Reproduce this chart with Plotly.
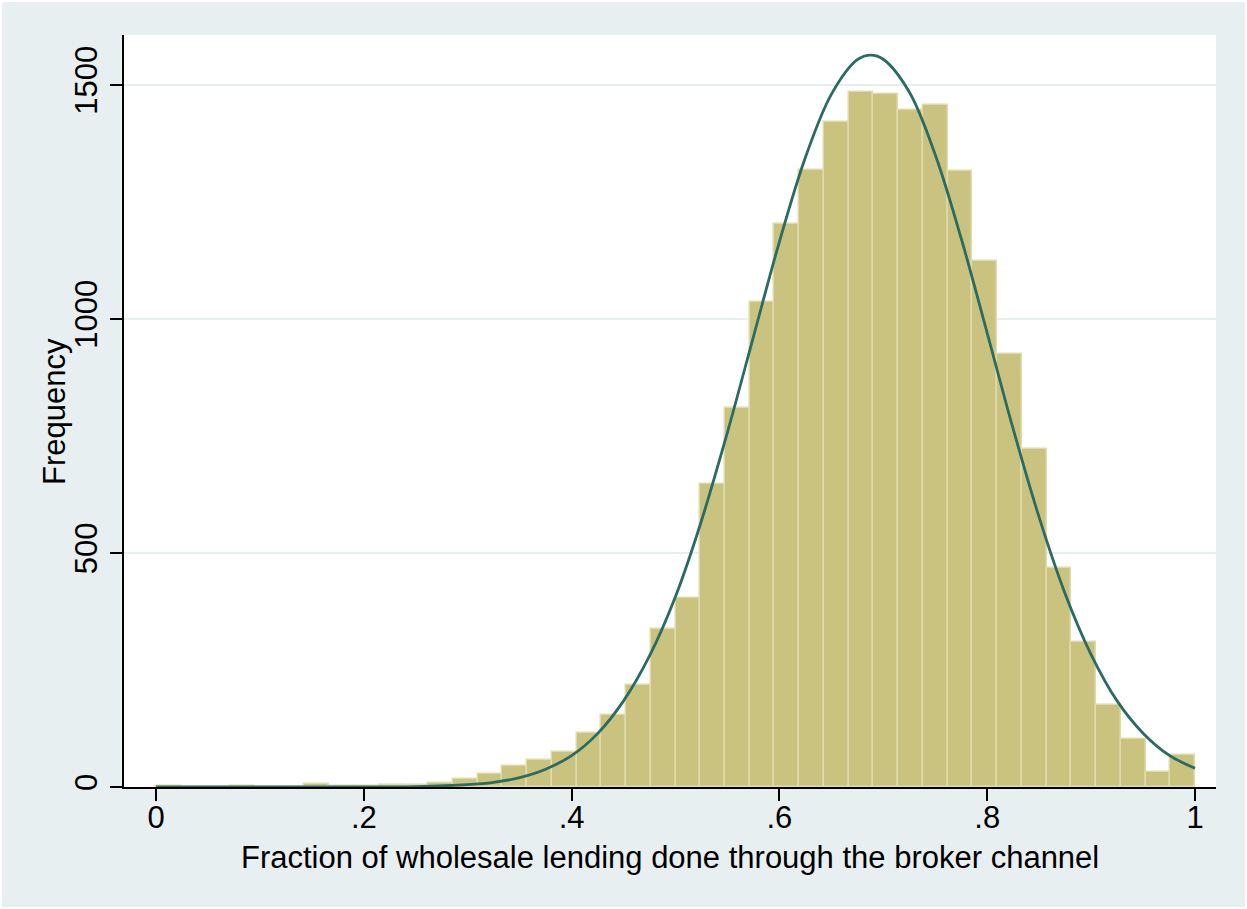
import plotly.graph_objects as go

# ---- data ----
bin_start = 0.0
bin_end = 1.0
n_bins = 42
bar_counts = [3, 1, 1, 3, 1, 1, 7, 2, 2, 4, 5, 8,
              18, 28, 45, 58, 74, 115, 154, 219, 338, 403,
              647, 810, 1036, 1202, 1318, 1421, 1486, 1481, 1447, 1458,
              1316, 1124, 925, 722, 469, 310, 175, 102, 31, 68]

curve_x = [0.0, 0.1, 0.2, 0.25, 0.3, 0.325, 0.35, 0.375, 0.4, 0.425, 0.45, 0.475,
           0.5, 0.525, 0.55, 0.575, 0.6, 0.625, 0.65, 0.675, 0.688, 0.7, 0.725,
           0.75, 0.775, 0.8, 0.825, 0.85, 0.875, 0.9, 0.925, 0.95, 0.975, 1.0]
curve_y = [0, 0, 0.2, 1, 5, 10, 20, 38, 67, 114, 184, 280,
           407, 569, 758, 962, 1165, 1345, 1480, 1554, 1564, 1555, 1485,
           1351, 1172, 970, 765, 576, 413, 283, 184, 115, 68, 40]

x_tick_vals = [0, 0.2, 0.4, 0.6, 0.8, 1.0]
x_tick_text = ["0", ".2", ".4", ".6", ".8", "1"]
y_tick_vals = [0, 500, 1000, 1500]
y_tick_text = ["0", "500", "1000", "1500"]

x_title = "Fraction of wholesale lending done through the broker channel"
y_title = "Frequency"

# ---- derived ----
bin_width = (bin_end - bin_start) / n_bins
bin_centers = [bin_start + (i + 0.5) * bin_width for i in range(n_bins)]

FONT = "Liberation Sans, Arial, Helvetica, sans-serif"
BG = "#e8eff1"

fig = go.Figure()
fig.add_trace(go.Bar(
    x=bin_centers, y=bar_counts, width=bin_width,
    marker=dict(color="#cac37f", line=dict(color="#e0dbaa", width=1.5)),
    showlegend=False, hoverinfo="x+y",
))
fig.add_trace(go.Scatter(
    x=curve_x, y=curve_y, mode="lines", line_shape="spline",
    line=dict(color="#2a6b62", width=2.8),
    showlegend=False,
))

fig.update_layout(
    width=1247, height=909,
    margin=dict(l=124, r=31, t=35, b=122),
    paper_bgcolor=BG, plot_bgcolor="white",
    font=dict(family=FONT, size=31, color="black"),
    bargap=0,
    shapes=[dict(type="rect", xref="paper", yref="paper",
                 x0=-124 / 1092, x1=(1247 - 124) / 1092,
                 y0=(787 - 909) / 752, y1=787 / 752,
                 line=dict(color="white", width=4), fillcolor="rgba(0,0,0,0)",
                 layer="above")],
    annotations=[
        dict(text=x_title, xref="paper", yref="paper",
             x=0.5, y=(787 - 857) / 752, xanchor="center", yanchor="middle",
             showarrow=False, font=dict(size=31)),
        dict(text=y_title, xref="paper", yref="paper",
             x=(54 - 124) / 1092, y=(787 - 412) / 752,
             xanchor="center", yanchor="middle", textangle=-90,
             showarrow=False, font=dict(size=31)),
    ],
)
fig.update_xaxes(
    range=[-32 / 1039, 1 + 21 / 1039],
    tickmode="array", tickvals=x_tick_vals, ticktext=x_tick_text,
    ticks="outside", ticklen=12, tickwidth=1.5, tickcolor="black",
    showline=True, linecolor="black", linewidth=1.5,
    showgrid=False, zeroline=False,
    ticklabelstandoff=-10,
)
fig.update_yaxes(
    range=[0, 752 / 0.468],
    tickmode="array", tickvals=y_tick_vals, ticktext=y_tick_text,
    tickangle=-90,
    ticks="outside", ticklen=12, tickwidth=1.5, tickcolor="black",
    showline=True, linecolor="black", linewidth=1.5,
    showgrid=True, gridcolor="#e6eef0", gridwidth=2,
    zeroline=False,
    ticklabelstandoff=1,
)

fig.write_html("out.html", config={"displayModeBar": False},
               post_script="document.body.style.margin='0';document.body.style.padding='0';")
